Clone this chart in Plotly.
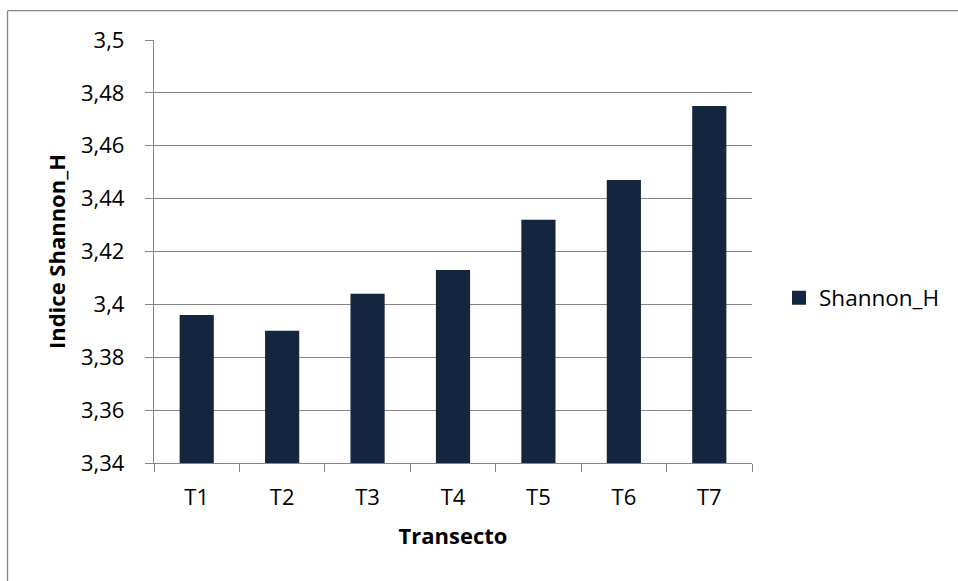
import plotly.graph_objects as go

# Shannon diversity index per transect
transects = ["T1", "T2", "T3", "T4", "T5", "T6", "T7"]
shannon_h = [3.396, 3.390, 3.404, 3.413, 3.432, 3.447, 3.475]

# Y-axis ticks (comma as decimal separator)
y_tick_values = [3.34, 3.36, 3.38, 3.40, 3.42, 3.44, 3.46, 3.48, 3.50]
y_tick_labels = ["3,34", "3,36", "3,38", "3,4", "3,42", "3,44", "3,46", "3,48", "3,5"]

W, H = 958, 581
L, R, T, B = 154, 752, 40.3, 462.7
GRAY = "#868686"
BAR = "#13253F"
FONT = "Open Sans"


def px_x(px):
    return (px - L) / (R - L)


def px_y(py):
    return (B - py) / (B - T)


fig = go.Figure()
fig.add_trace(go.Bar(
    x=transects,
    y=shannon_h,
    name="Shannon_H",
    showlegend=False,
    marker=dict(color=BAR, line=dict(width=0)),
))
# Legend entry with a larger square swatch
fig.add_trace(go.Scatter(
    x=[None], y=[None],
    mode="markers",
    name="Shannon_H",
    marker=dict(symbol="square", size=14, color=BAR, line=dict(width=0)),
    showlegend=True,
    hoverinfo="skip",
))

fig.update_layout(
    width=W,
    height=H,
    margin=dict(l=L, r=W - R, t=T, b=H - B, pad=0),
    paper_bgcolor="white",
    plot_bgcolor="white",
    bargap=0.6,
    font=dict(family=FONT, color="#000000", size=22),
    showlegend=True,
    legend=dict(
        xref="container", yref="container",
        x=779 / W, y=1 - 298 / H,
        xanchor="left", yanchor="middle",
        font=dict(family=FONT, size=22.5, color="#000000"),
        bgcolor="rgba(0,0,0,0)",
        itemwidth=30,
    ),
    xaxis=dict(
        type="category",
        showline=True, linecolor=GRAY, linewidth=1.3,
        ticks="outside", ticklen=8, tickcolor=GRAY, tickwidth=1.3,
        tickson="boundaries",
        showgrid=False,
        ticklabelstandoff=14,
        tickfont=dict(family=FONT, size=22),
        title=dict(text="<b>Transecto</b>", font=dict(family=FONT, size=22), standoff=19),
        fixedrange=True,
    ),
    yaxis=dict(
        range=[3.34, 3.50],
        tickmode="array",
        tickvals=y_tick_values,
        ticktext=y_tick_labels,
        showline=True, linecolor=GRAY, linewidth=1.3,
        ticks="outside", ticklen=8, tickcolor=GRAY, tickwidth=1.3,
        showgrid=True, gridcolor=GRAY, gridwidth=1.3,
        zeroline=False,
        ticklabelstandoff=16,
        tickfont=dict(family=FONT, size=22),
        title=dict(text="<b>Indice Shannon_H</b>", font=dict(family=FONT, size=22), standoff=9),
        fixedrange=True,
    ),
)

# Chart-area border (left and top edges)
fig.add_shape(type="line", xref="paper", yref="paper",
              x0=px_x(7.5), x1=px_x(958), y0=px_y(11), y1=px_y(11),
              line=dict(color=GRAY, width=1.3))
fig.add_shape(type="line", xref="paper", yref="paper",
              x0=px_x(7.5), x1=px_x(7.5), y0=px_y(11), y1=px_y(581),
              line=dict(color=GRAY, width=1.3))

fig.write_html("out.html", config={"displayModeBar": False})
